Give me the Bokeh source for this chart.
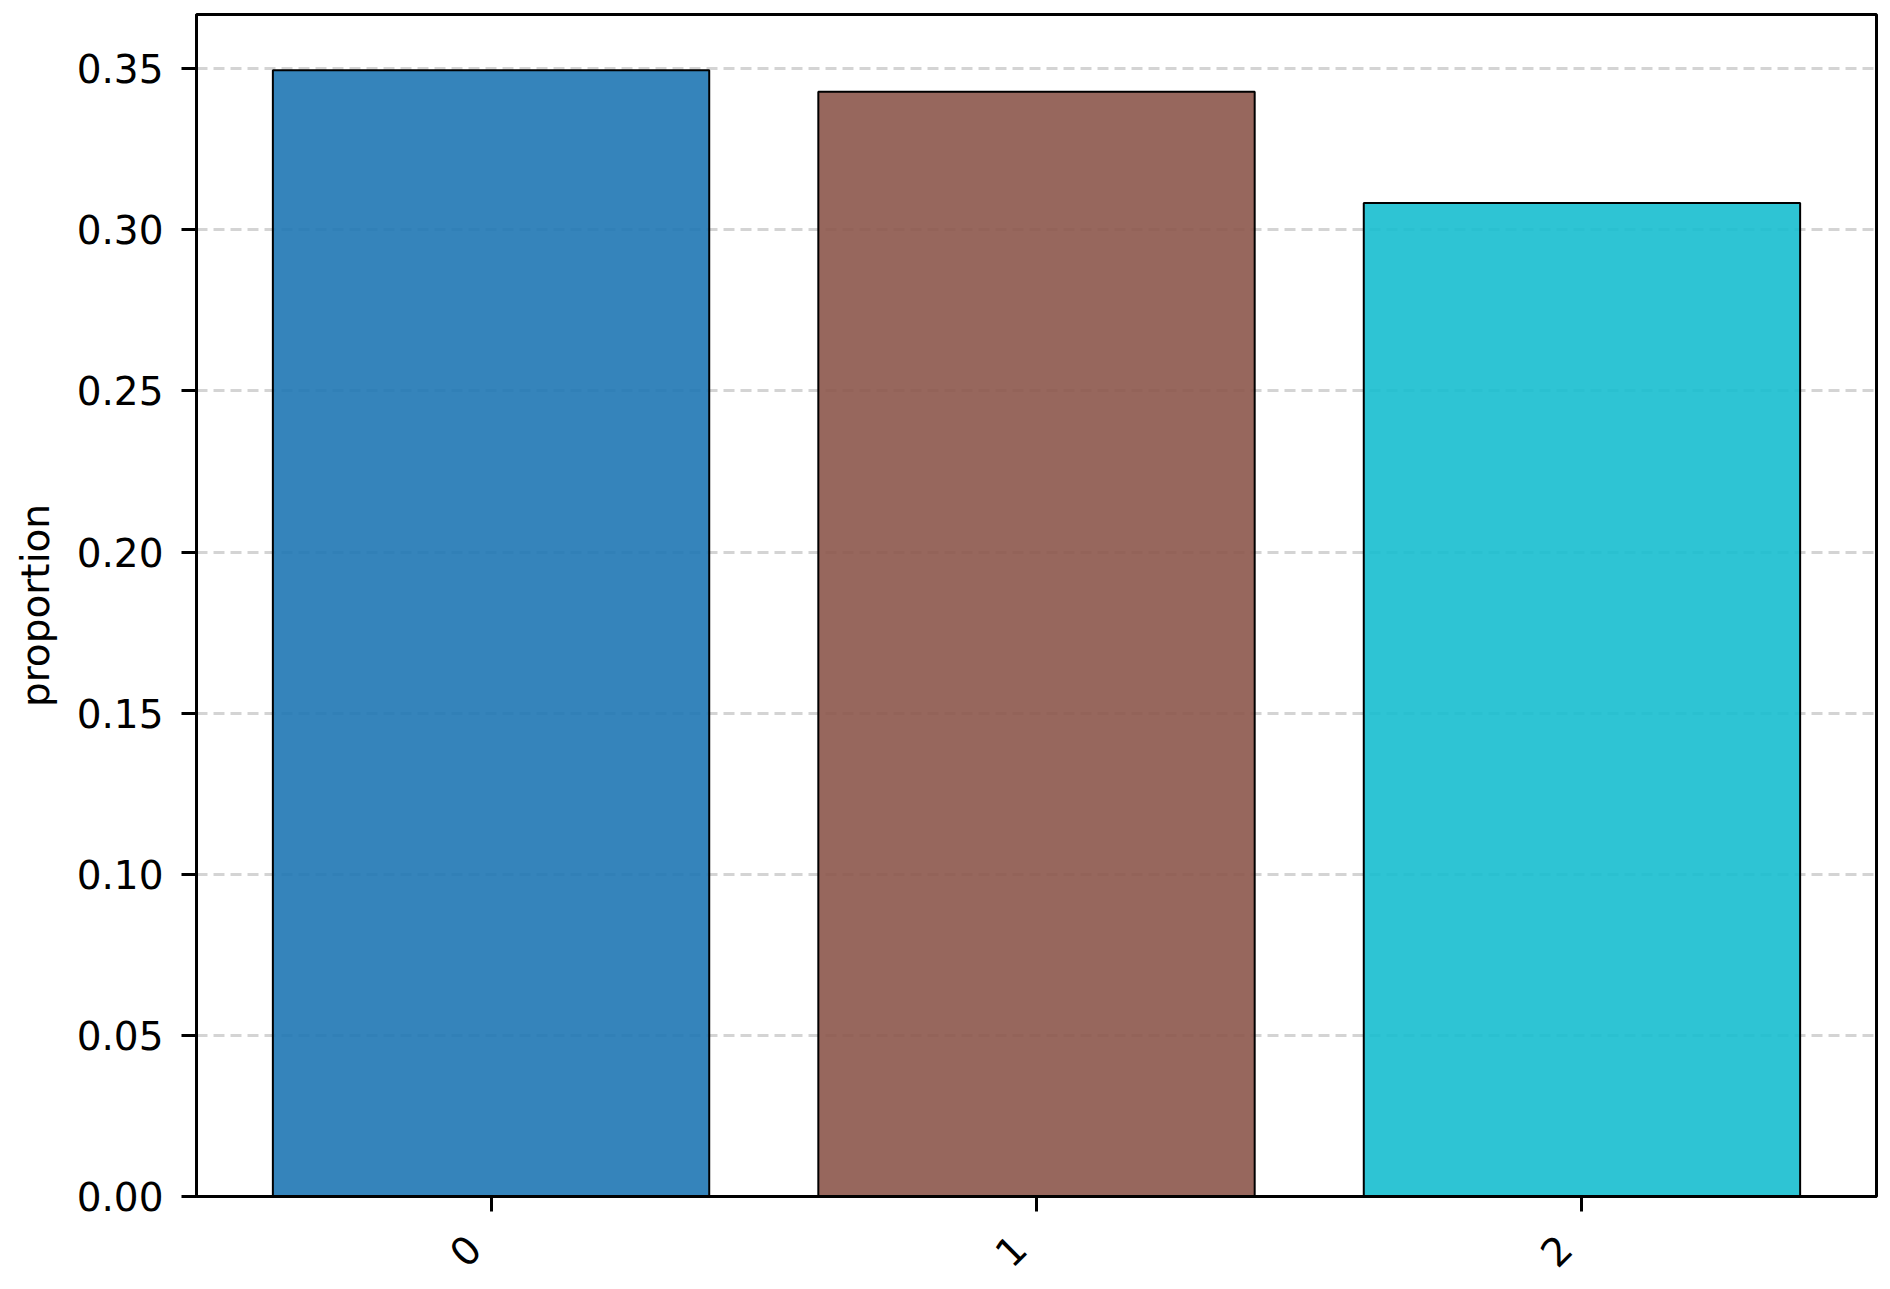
import math
from bokeh.plotting import figure
from bokeh.layouts import column
from bokeh.models import (Range1d, FixedTicker, NumeralTickFormatter, ColumnDataSource)
from bokeh.core.properties import value
from bokeh.embed import file_html
from bokeh.resources import INLINE

categories = ["0", "1", "2"]
proportions = [0.3495, 0.3428, 0.3083]
bar_colors = ["#1f77b4", "#8c564b", "#17becf"]
y_ticks = [0.0, 0.05, 0.10, 0.15, 0.20, 0.25, 0.30, 0.35]

positions = list(range(len(categories)))
source = ColumnDataSource(dict(x=positions, cat=categories, val=proportions, color=bar_colors,
                               mid=[0.5] * len(categories)))

FONT = "DejaVu Sans"
BAR_W = 0.8

x_range = Range1d(-0.54, len(categories) - 1 + 0.54)

p = figure(
    width=1882, height=1222,
    x_range=x_range,
    y_range=Range1d(0, 0.3668),
    output_backend="svg", toolbar_location=None,
    min_border_left=196, min_border_right=6, min_border_top=14, min_border_bottom=26,
)

p.vbar(x="x", top="val", width=BAR_W, source=source,
       fill_color="color", fill_alpha=0.9, line_color="black", line_width=2)

p.background_fill_color = "white"
p.border_fill_color = "white"
p.outline_line_color = "black"
p.outline_line_width = 3
p.outline_line_alpha = 1

p.xgrid.visible = False
p.ygrid.grid_line_color = "#d4d4d4"
p.ygrid.grid_line_width = 3
p.ygrid.grid_line_dash = "11 6"
p.ygrid.ticker = FixedTicker(ticks=y_ticks)

p.yaxis.ticker = FixedTicker(ticks=y_ticks)
p.yaxis.formatter = NumeralTickFormatter(format="0.00")
p.yaxis.axis_label = "proportion"
p.xaxis.ticker = FixedTicker(ticks=positions)

for ax in (p.xaxis[0], p.yaxis[0]):
    ax.axis_line_color = "black"
    ax.axis_line_width = 3
    ax.major_tick_line_color = "black"
    ax.major_tick_line_width = 3
    ax.major_tick_out = 15
    ax.major_tick_in = 0
    ax.minor_tick_line_color = None
    ax.major_label_text_font = FONT
    ax.major_label_text_font_size = "39px"
    ax.major_label_text_color = "black"
    ax.axis_label_text_font = FONT
    ax.axis_label_text_font_size = "39px"
    ax.axis_label_text_font_style = "normal"
    ax.axis_label_text_color = "black"

p.yaxis.major_label_standoff = 18
p.yaxis.axis_label_standoff = 16

# x tick labels are drawn in a strip below (rotated 45°, right-anchored like the reference)
p.xaxis.major_label_text_color = None
p.xaxis.major_label_text_font_size = "1px"
p.xaxis.major_label_standoff = 0

strip = figure(
    width=1882, height=56,
    x_range=x_range, y_range=Range1d(0, 1),
    output_backend="svg", toolbar_location=None,
    min_border_left=196, min_border_right=6, min_border_top=0, min_border_bottom=0,
)
strip.axis.visible = False
strip.grid.visible = False
strip.outline_line_color = None
strip.background_fill_color = "white"
strip.border_fill_color = "white"
strip.text(x="x", y="mid", text="cat", source=source, angle=math.pi / 4,
           text_align="center", text_baseline="middle", x_offset=-26,
           text_font=value(FONT), text_font_size="39px", text_color="black")

layout = column(p, strip, spacing=0)

open("out.html", "w").write(file_html(layout, INLINE))
